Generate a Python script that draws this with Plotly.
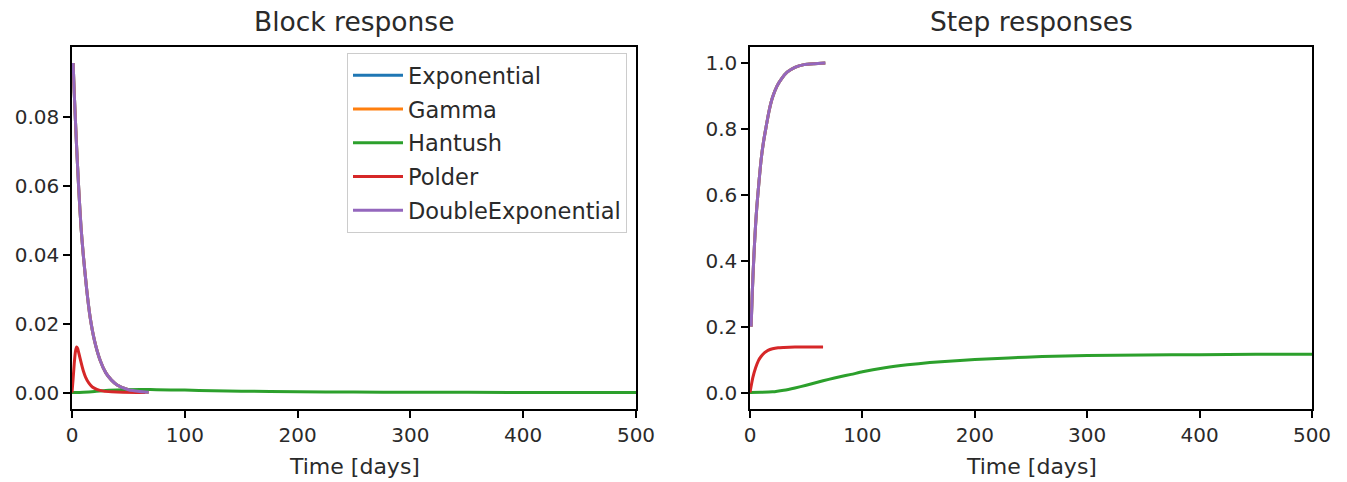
import plotly.graph_objects as go

# ---- block responses (response per unit block, vs. time in days) ----
t_dexp_block = [1, 2, 4, 6, 8, 10, 13, 16, 20, 25, 30, 35, 40, 50, 60, 68]
v_dexp_block = [0.0957, 0.087, 0.072, 0.059, 0.048, 0.040, 0.030, 0.022, 0.015,
                0.0093, 0.0057, 0.0036, 0.0022, 0.0008, 0.0003, 0.0001]

t_polder_block = [0, 1, 2, 3, 4, 5, 6, 8, 10, 12, 15, 18, 22, 28, 35, 45, 65]
v_polder_block = [0.0, 0.004, 0.0085, 0.0118, 0.0132, 0.0128, 0.0115, 0.0088, 0.0063,
                  0.0045, 0.0027, 0.0016, 0.0009, 0.0004, 0.0002, 0.00005, 0.0]

t_hantush_block = [0, 10, 20, 30, 45, 60, 75, 100, 125, 150, 200, 250, 300, 400, 500]
v_hantush_block = [0.0, 0.0001, 0.0003, 0.0006, 0.0008, 0.0009, 0.0008, 0.0007, 0.0005,
                   0.0004, 0.0002, 0.00013, 0.00008, 0.00003, 0.00001]

# ---- step responses ----
t_dexp_step = [1, 2, 3, 4, 5, 6, 8, 10, 12, 14, 17, 20, 24, 28, 33, 40, 48, 57, 67]
v_dexp_step = [0.20, 0.30, 0.38, 0.45, 0.51, 0.56, 0.64, 0.71, 0.76, 0.80, 0.855, 0.895,
               0.93, 0.952, 0.972, 0.987, 0.995, 0.998, 1.0]

t_polder_step = [0, 2.5, 5, 7.5, 10, 13, 16, 20, 25, 30, 40, 50, 65]
v_polder_step = [0.0, 0.045, 0.075, 0.097, 0.11, 0.121, 0.128, 0.133, 0.136, 0.137,
                 0.138, 0.138, 0.138]

t_hantush_step = [0, 10, 20, 30, 40, 50, 60, 70, 80, 90, 100, 120, 140, 160, 180, 200,
                  230, 260, 300, 350, 400, 450, 500]
v_hantush_step = [0.0, 0.0005, 0.002, 0.007, 0.014, 0.022, 0.031, 0.040, 0.048, 0.055,
                  0.063, 0.075, 0.084, 0.091, 0.096, 0.100, 0.105, 0.109, 0.112, 0.114,
                  0.115, 0.116, 0.116]

names = ["Exponential", "Gamma", "Hantush", "Polder", "DoubleExponential"]
colors = ["#1f77b4", "#ff7f0e", "#2ca02c", "#d62728", "#9467bd"]

# Exponential and Gamma coincide with DoubleExponential for these parameters
block = {
    "Exponential": (t_dexp_block, v_dexp_block),
    "Gamma": (t_dexp_block, v_dexp_block),
    "Hantush": (t_hantush_block, v_hantush_block),
    "Polder": (t_polder_block, v_polder_block),
    "DoubleExponential": (t_dexp_block, v_dexp_block),
}
step = {
    "Exponential": (t_dexp_step, v_dexp_step),
    "Gamma": (t_dexp_step, v_dexp_step),
    "Hantush": (t_hantush_step, v_hantush_step),
    "Polder": (t_polder_step, v_polder_step),
    "DoubleExponential": (t_dexp_step, v_dexp_step),
}

W, H = 1347, 482
FONT = "DejaVu Sans"
TXT = "#2a2a2a"
fig = go.Figure()

for name, col in zip(names, colors):
    x, y = block[name]
    fig.add_trace(go.Scatter(x=x, y=y, mode="lines", name=name, legendgroup=name,
                             line=dict(color=col, width=3, shape="spline", smoothing=0.6),
                             xaxis="x", yaxis="y"))
for name, col in zip(names, colors):
    x, y = step[name]
    fig.add_trace(go.Scatter(x=x, y=y, mode="lines", name=name, legendgroup=name,
                             showlegend=False,
                             line=dict(color=col, width=3, shape="spline", smoothing=0.6),
                             xaxis="x2", yaxis="y2"))

axis_common = dict(showline=True, mirror=True, linecolor="black", linewidth=1.5,
                   ticks="outside", ticklen=7, tickwidth=1.5, tickcolor="black",
                   showgrid=False, zeroline=False, automargin=False,
                   tickfont=dict(family=FONT, size=20, color=TXT))

y_top = 1 - 46.5 / H
y_bot = 1 - 409 / H

fig.update_layout(
    width=W, height=H,
    margin=dict(l=0, r=0, t=0, b=0),
    paper_bgcolor="white", plot_bgcolor="white",
    font=dict(family=FONT, color=TXT),
    xaxis=dict(domain=[72 / W, 636 / W], range=[0, 500], tickvals=[0, 100, 200, 300, 400, 500],
               anchor="y", **axis_common),
    yaxis=dict(domain=[y_bot, y_top], range=[-0.00479, 0.1005],
               tickvals=[0, 0.02, 0.04, 0.06, 0.08], tickformat=".2f",
               anchor="x", **axis_common),
    xaxis2=dict(domain=[750 / W, 1312 / W], range=[0, 500], tickvals=[0, 100, 200, 300, 400, 500],
                anchor="y2", **axis_common),
    yaxis2=dict(domain=[y_bot, y_top], range=[-0.05, 1.05],
                tickvals=[0, 0.2, 0.4, 0.6, 0.8, 1.0], tickformat=".1f",
                anchor="x2", **axis_common),
    legend=dict(x=627 / W, y=1 - 53 / H, xanchor="right", yanchor="top",
                bgcolor="rgba(255,255,255,0.8)", bordercolor="#cccccc", borderwidth=1,
                font=dict(family=FONT, size=22.5, color=TXT),
                tracegroupgap=1.5, itemwidth=50),
    showlegend=True,
)

annotations = [
    dict(text="Block response", x=354 / W, y=1 - 22 / H, font=dict(size=26.5)),
    dict(text="Step responses", x=1031 / W, y=1 - 22 / H, font=dict(size=26.5)),
    dict(text="Time [days]", x=354 / W, y=1 - 466 / H, font=dict(size=22)),
    dict(text="Time [days]", x=1031 / W, y=1 - 466 / H, font=dict(size=22)),
]
for a in annotations:
    fig.add_annotation(xref="paper", yref="paper", showarrow=False,
                       xanchor="center", yanchor="middle",
                       font_family=FONT, font_color=TXT, **{k: v for k, v in a.items()})

fig.write_html("out.html")
